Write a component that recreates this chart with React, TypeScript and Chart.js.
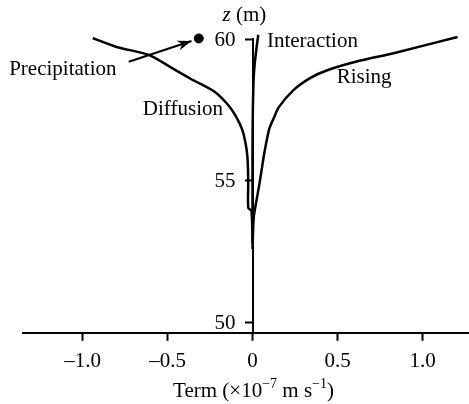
import React, { useEffect, useRef } from "react";
import { Chart, registerables } from "chart.js";

Chart.register(...registerables);

const FONT = "'Liberation Serif', 'Times New Roman', serif";

// Diffusion term profile
const DIFFUSION_Z = [60.03, 59.72, 59.44, 59.0, 58.6, 58.15, 57.7, 57.3, 56.8, 56.3, 55.85, 55.0, 54.05, 53.95, 52.8];
const DIFFUSION_TERM = [-0.94, -0.8, -0.61, -0.48, -0.365, -0.225, -0.147, -0.1, -0.06, -0.04, -0.03, -0.025, -0.025, -0.006, 0];

// Rising term profile
const RISING_Z = [60.07, 59.5, 59.24, 58.9, 58.63, 58.2, 57.6, 57.2, 56.8, 56.0, 55.4, 54.8, 54.2, 53.7, 52.6];
const RISING_TERM = [1.206, 0.83, 0.635, 0.44, 0.341, 0.241, 0.155, 0.124, 0.097, 0.07, 0.054, 0.038, 0.02, 0.007, 0];

// Interaction term profile
const INTERACTION_Z = [60.15, 59.8, 59.4, 59.0, 58.5, 57.5, 56.0, 54.0];
const INTERACTION_TERM = [0.034, 0.026, 0.018, 0.011, 0.006, 0.002, 0, 0];

// Precipitation term (single point at the top)
const PRECIP_Z = [60.02];
const PRECIP_TERM = [-0.316];

// Arrow from "Precipitation" label to the point
const ARROW_TERM = [-0.728, -0.359];
const ARROW_Z = [59.2, 59.93];

const X_TICKS = [-1, -0.5, 0, 0.5, 1];
const X_TICK_LABELS = ["\u20131.0", "\u20130.5", "0", "0.5", "1.0"];
const Y_TICKS = [50, 55, 60];
const Y_TICK_LABELS = ["50", "55", "60"];

const CURVE_LABELS = ["Precipitation", "Diffusion", "Interaction", "Rising"];
// anchors in data coordinates (term, z) for the curve labels
const LABEL_TERM = [-0.8, -0.645, 0.085, 0.495];
const LABEL_Z = [58.73, 57.32, 59.73, 58.46];
const LABEL_ALIGN = ["right", "left", "left", "left"];

const zip = (xs: number[], ys: number[]) => xs.map((x, i) => ({ x, y: ys[i] }));

const annotationPlugin = {
  id: "annotations",
  afterDraw(chart: any) {
    const { ctx, chartArea } = chart;
    const xs = chart.scales.x;
    const ys = chart.scales.y;
    const ax = xs.getPixelForValue(0);
    ctx.save();
    ctx.fillStyle = "#000";
    ctx.strokeStyle = "#000";
    ctx.font = `21px ${FONT}`;

    // y tick labels, left of the centred axis
    ctx.textAlign = "right";
    ctx.textBaseline = "middle";
    Y_TICKS.forEach((v, i) => {
      ctx.fillText(Y_TICK_LABELS[i], ax - 17, ys.getPixelForValue(v) + 1);
    });

    ctx.textBaseline = "alphabetic";
    CURVE_LABELS.forEach((t, i) => {
      ctx.textAlign = LABEL_ALIGN[i];
      ctx.fillText(t, xs.getPixelForValue(LABEL_TERM[i]), ys.getPixelForValue(LABEL_Z[i]));
    });

    // arrow head
    const x0 = xs.getPixelForValue(ARROW_TERM[0]);
    const y0 = ys.getPixelForValue(ARROW_Z[0]);
    const x1 = xs.getPixelForValue(ARROW_TERM[1]);
    const y1 = ys.getPixelForValue(ARROW_Z[1]);
    const ang = Math.atan2(y1 - y0, x1 - x0);
    const len = 14;
    const hw = 5;
    ctx.beginPath();
    ctx.moveTo(x1, y1);
    ctx.lineTo(x1 - len * Math.cos(ang) + hw * Math.sin(ang), y1 - len * Math.sin(ang) - hw * Math.cos(ang));
    ctx.lineTo(x1 - len * 0.7 * Math.cos(ang), y1 - len * 0.7 * Math.sin(ang));
    ctx.lineTo(x1 - len * Math.cos(ang) - hw * Math.sin(ang), y1 - len * Math.sin(ang) + hw * Math.cos(ang));
    ctx.closePath();
    ctx.fill();

    // y-axis title "z (m)"
    const ty = chartArea.top - 18;
    ctx.textAlign = "left";
    ctx.font = `italic 21px ${FONT}`;
    const zx = ax - 30;
    ctx.fillText("z", zx, ty);
    const zw = ctx.measureText("z").width;
    ctx.font = `21px ${FONT}`;
    ctx.fillText(" (m)", zx + zw, ty);

    // x-axis title with superscripts
    const parts: [string, boolean][] = [
      ["Term (\u00d710", false],
      ["\u22127", true],
      [" m s", false],
      ["\u22121", true],
      [")", false],
    ];
    const normal = `21px ${FONT}`;
    const sup = `14px ${FONT}`;
    let total = 0;
    parts.forEach(([t, s]) => {
      ctx.font = s ? sup : normal;
      total += ctx.measureText(t).width;
    });
    let cx = ax + 1 - total / 2;
    const by = chartArea.bottom + 64;
    parts.forEach(([t, s]) => {
      ctx.font = s ? sup : normal;
      ctx.fillText(t, cx, s ? by - 9 : by);
      cx += ctx.measureText(t).width;
    });
    ctx.restore();
  },
};

export default function App() {
  const ref = useRef<HTMLCanvasElement | null>(null);
  useEffect(() => {
    if (!ref.current) return;
    const line = (data: any[]) => ({
      data,
      showLine: true,
      borderColor: "#000",
      backgroundColor: "#000",
      borderWidth: 2.5,
      pointRadius: 0,
      tension: 0.25,
      clip: false as any,
    });
    const chart = new Chart(ref.current, {
      type: "scatter",
      data: {
        datasets: [
          line(zip(DIFFUSION_TERM, DIFFUSION_Z)),
          line(zip(RISING_TERM, RISING_Z)),
          line(zip(INTERACTION_TERM, INTERACTION_Z)),
          { ...line(zip(ARROW_TERM, ARROW_Z)), borderWidth: 2.2, tension: 0 },
          {
            data: zip(PRECIP_TERM, PRECIP_Z),
            showLine: false,
            pointRadius: 4.5,
            pointBackgroundColor: "#000",
            pointBorderColor: "#000",
            clip: false as any,
          },
        ],
      },
      options: {
        animation: false,
        responsive: true,
        maintainAspectRatio: false,
        layout: { autoPadding: false, padding: { left: 23, right: 0, top: 39, bottom: 22 } },
        plugins: { legend: { display: false }, tooltip: { enabled: false } },
        scales: {
          x: {
            type: "linear",
            min: -1.35,
            max: 1.2735,
            position: "bottom",
            afterBuildTicks: (s: any) => {
              s.ticks = X_TICKS.map((v) => ({ value: v }));
            },
            ticks: {
              autoSkip: false,
              maxRotation: 0,
              color: "#000",
              padding: 8,
              font: { family: FONT, size: 21 },
              callback: (v: any) => {
                const i = X_TICKS.findIndex((t) => Math.abs(t - Number(v)) < 1e-9);
                return i >= 0 ? X_TICK_LABELS[i] : "";
              },
            },
            grid: { drawOnChartArea: false, drawTicks: true, tickLength: 8, color: "#000", tickWidth: 2 },
            border: { display: true, color: "#000", width: 2 },
          },
          y: {
            type: "linear",
            min: 49.65,
            max: 60,
            position: { x: 0 } as any,
            afterBuildTicks: (s: any) => {
              s.ticks = Y_TICKS.map((v) => ({ value: v }));
            },
            ticks: { display: false },
            grid: { drawOnChartArea: false, drawTicks: true, tickLength: 7, color: "#000", tickWidth: 2 },
            border: { display: true, color: "#000", width: 2 },
          },
        },
      },
      plugins: [annotationPlugin],
    });
    return () => chart.destroy();
  }, []);
  return (
    <div style={{ position: "fixed", left: 0, top: 0, width: 469, height: 404, background: "#fff" }}>
      <canvas ref={ref} />
    </div>
  );
}
